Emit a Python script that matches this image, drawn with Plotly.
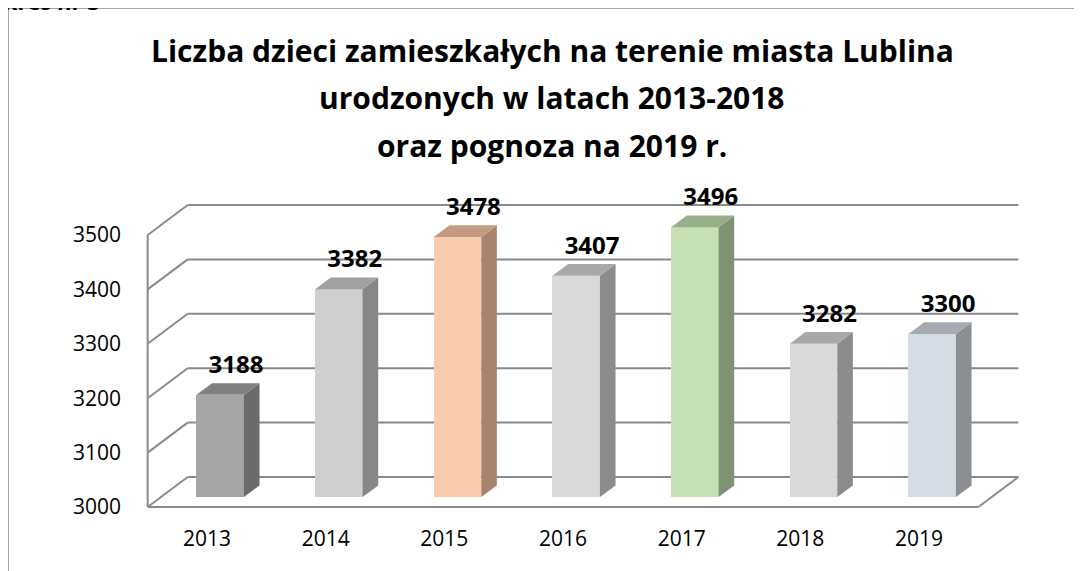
import plotly.graph_objects as go

# --- DATA ---
years = ['2013', '2014', '2015', '2016', '2017', '2018', '2019']
births = [3188, 3382, 3478, 3407, 3496, 3282, 3300]
y_ticks = [3000, 3100, 3200, 3300, 3400, 3500]
title_lines = ['Liczba dzieci zamieszkałych na terenie miasta Lublina',
               'urodzonych w latach 2013-2018',
               'oraz pognoza na 2019 r.']
caption = 'Wykres nr 3'

# bar colours: front face, top face, side face
front_colors = ['#a5a5a5', '#d0cece', '#f8cbad', '#d9d9d9', '#c5e0b4', '#d9d9d9', '#d6dce5']
top_colors = ['#808080', '#a2a0a0', '#c49b82', '#a8a8a8', '#98ad8a', '#a8a8a8', '#a6aab1']
side_colors = ['#6b6b6b', '#888787', '#a7846f', '#8c8c8c', '#809274', '#8c8c8c', '#8b8f94']

font_main = 'Open Sans, sans-serif'
grid_color = '#8a8a8a'

# page has an 8px body margin, so the figure is a bit smaller than the window
OFF = 8
FIG_W, FIG_H = 1082 - OFF, 571 - OFF
PLOT_L, PLOT_B = 140, 520          # plot area edges, window pixels
PW, PH = 1082 - PLOT_L, PLOT_B - OFF


def paper_x(px):
    return (px - PLOT_L) / PW


def paper_y(py):
    return (PLOT_B - py) / PH


# --- PSEUDO 3D ---
BASE = 3000
X_PX, Y_PX = 118.67, 0.544     # pixels per category / per child
DX, DY = 40 / X_PX, 30 / Y_PX  # full depth shift, in axis units
D_FRONT, D_BACK = 0.33, 0.72   # bar depth inside the box
W = 0.4                        # bar width
X_LO, X_HI = -0.5, len(years) - 0.5


def proj(x, v, d):
    return x + d * DX, v + d * DY


fig = go.Figure()

# front faces as real bars
fig.add_trace(go.Bar(
    x=[i + D_FRONT * DX for i in range(len(years))],
    y=[v - BASE for v in births],
    base=BASE + D_FRONT * DY,
    width=W,
    marker=dict(color=front_colors, line=dict(width=0)),
    hoverinfo='skip'))

# side and top faces
for i, v in enumerate(births):
    l, r = i - W / 2, i + W / 2
    side = [proj(r, BASE, D_FRONT), proj(r, BASE, D_BACK), proj(r, v, D_BACK), proj(r, v, D_FRONT)]
    top = [proj(l, v, D_FRONT), proj(r, v, D_FRONT), proj(r, v, D_BACK), proj(l, v, D_BACK)]
    for pts, col in ((side, side_colors[i]), (top, top_colors[i])):
        fig.add_trace(go.Scatter(
            x=[p[0] for p in pts], y=[p[1] for p in pts], mode='lines',
            fill='toself', fillcolor=col, line=dict(width=0), hoverinfo='skip'))

# data labels
fig.add_trace(go.Scatter(
    x=[i + 0.245 for i in range(len(years))],
    y=[v + 38 / Y_PX for v in births],
    mode='text', text=[str(v) for v in births],
    textfont=dict(family=font_main, size=24, color='black', weight='bold'),
    textposition='middle center', cliponaxis=False, hoverinfo='skip'))

# walls, floor and gridlines
shapes = []
gl = dict(color=grid_color, width=2)
for t in y_ticks:
    x0, y0 = proj(X_LO, t, 1)
    x1, y1 = proj(X_HI, t, 1)
    shapes.append(dict(type='line', x0=x0, y0=y0, x1=x1, y1=y1, line=gl, layer='below'))
    x2, y2 = proj(X_LO, t, 0)
    shapes.append(dict(type='line', x0=x2, y0=y2, x1=x0, y1=y0, line=gl, layer='below'))
# left wall front edge
x0, y0 = proj(X_LO, y_ticks[0], 0)
x1, y1 = proj(X_LO, y_ticks[-1], 0)
shapes.append(dict(type='line', x0=x0, y0=y0, x1=x1, y1=y1, line=gl, layer='below'))
# floor front and right edges
x1, y1 = proj(X_HI, BASE, 0)
x2, y2 = proj(X_HI, BASE, 1)
shapes.append(dict(type='line', x0=x0, y0=y0, x1=x1, y1=y1, line=gl, layer='below'))
shapes.append(dict(type='line', x0=x1, y0=y1, x1=x2, y1=y2, line=gl, layer='below'))

# outer chart frame
frame = dict(color='#a6a6a6', width=2)
shapes.append(dict(type='line', xref='paper', yref='paper', x0=paper_x(8), y0=paper_y(8),
                   x1=paper_x(1100), y1=paper_y(8), line=frame))
shapes.append(dict(type='line', xref='paper', yref='paper', x0=paper_x(8), y0=paper_y(8),
                   x1=paper_x(8), y1=paper_y(600), line=frame))

annotations = []
for k, line in enumerate(title_lines):
    annotations.append(dict(
        text=line, xref='paper', yref='paper', x=paper_x(552), y=paper_y(50 + 47.5 * k),
        xanchor='center', yanchor='middle', showarrow=False,
        font=dict(family=font_main, size=30, color='black', weight='bold')))
annotations.append(dict(
    text=caption, xref='paper', yref='paper', x=paper_x(102), y=paper_y(18),
    xanchor='right', yanchor='bottom', showarrow=False,
    font=dict(family=font_main, size=22, color='black', weight='bold')))

fig.update_layout(
    width=FIG_W, height=FIG_H,
    margin=dict(l=PLOT_L - OFF, r=0, t=0, b=571 - PLOT_B),
    showlegend=False,
    plot_bgcolor='white', paper_bgcolor='white',
    font=dict(family=font_main),
    shapes=shapes, annotations=annotations,
    bargap=0,
    xaxis=dict(range=[(PLOT_L - 207) / X_PX, (1082 - 207) / X_PX], tickvals=list(range(len(years))),
               ticktext=years, showgrid=False, zeroline=False, showline=False, ticks='',
               tickfont=dict(family=font_main, size=21, color='black'), ticklabelstandoff=4),
    yaxis=dict(range=[BASE - (PLOT_B - 507) / Y_PX, BASE + (507 - OFF) / Y_PX], tickvals=y_ticks,
               showgrid=False, zeroline=False, showline=False, ticks='',
               tickfont=dict(family=font_main, size=21, color='black'), ticklabelstandoff=18),
)

fig.write_html('out.html')
